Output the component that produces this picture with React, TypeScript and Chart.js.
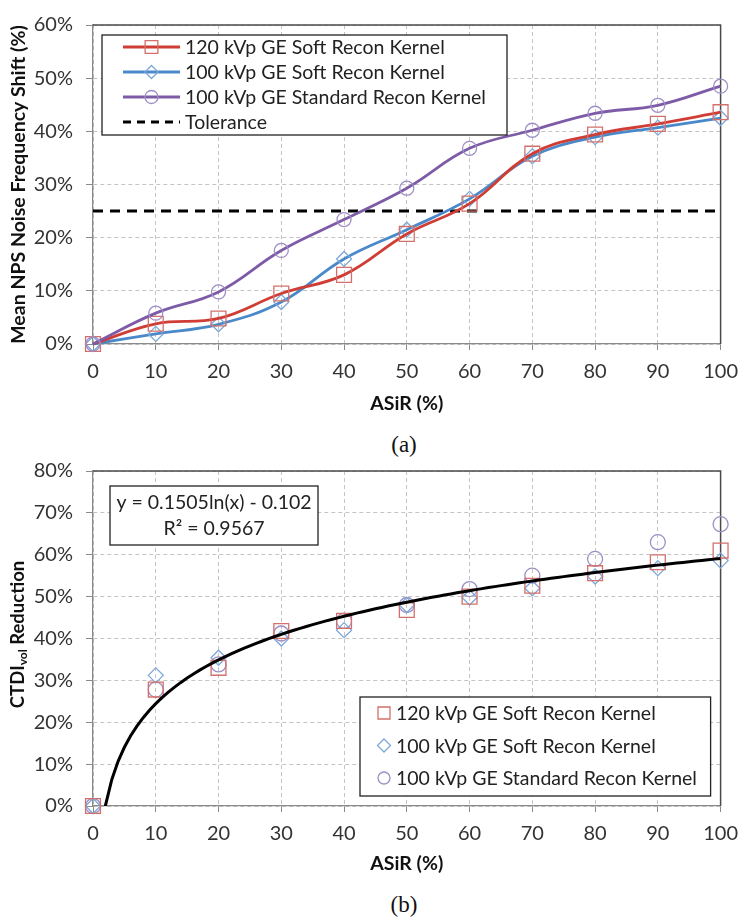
import React, { useEffect, useRef } from "react";
import { Chart, registerables } from "chart.js";

Chart.register(...registerables);

// ---------------- data ----------------
const ASIR_LEVELS = [0, 10, 20, 30, 40, 50, 60, 70, 80, 90, 100];

// (a) Mean NPS noise frequency shift (%)
const NPS_120_SOFT = [0, 3.8, 4.8, 9.5, 13.0, 20.7, 26.4, 35.8, 39.4, 41.4, 43.6];
const NPS_100_SOFT = [0, 1.9, 3.7, 7.9, 16.0, 21.5, 27.3, 35.3, 38.9, 40.7, 42.5];
const NPS_100_STD = [0, 5.8, 9.8, 17.6, 23.4, 29.3, 36.8, 40.2, 43.4, 44.9, 48.5];
const TOLERANCE = 25;

// (b) CTDIvol reduction (%)
const CTDI_120_SOFT = [0, 27.8, 33.0, 41.8, 44.2, 46.8, 50.0, 52.6, 55.6, 58.2, 61.0];
const CTDI_100_SOFT = [0, 31.2, 35.4, 40.0, 42.0, 48.0, 49.8, 52.0, 54.8, 56.8, 58.6];
const CTDI_100_STD = [0, 27.8, 33.8, 41.2, 44.2, 48.0, 51.8, 55.0, 59.0, 63.0, 67.3];

// logarithmic trend line printed on the chart
const TREND_SLOPE = 0.1505;
const TREND_INTERCEPT = -0.102;
const TREND_TEXT = "y = 0.1505ln(x) - 0.102";
const R2_TEXT = "R² = 0.9567";

const SERIES_NAMES = [
  "120 kVp GE Soft Recon Kernel",
  "100 kVp GE Soft Recon Kernel",
  "100 kVp GE Standard Recon Kernel",
];
const TOLERANCE_NAME = "Tolerance";
const X_TITLE = "ASiR (%)";
const Y_TITLE_A = "Mean NPS Noise Frequency Shift (%)";
const Y_TITLE_B_MAIN = "CTDI";
const Y_TITLE_B_SUB = "vol";
const Y_TITLE_B_REST = " Reduction";
const CAPTION_A = "(a)";
const CAPTION_B = "(b)";

const X_MIN = 0, X_MAX = 100, X_STEP = 10;
const YA_MIN = 0, YA_MAX = 60, YA_STEP = 10;
const YB_MIN = 0, YB_MAX = 80, YB_STEP = 10;

// ---------------- styles ----------------
const FONT = "Lato, 'Open Sans', sans-serif";
const TICK_COLOR = "#333333";
const TITLE_COLOR = "#111111";
const GRID_COLOR = "#c4c4c4";
const AXIS_COLOR = "#8a8a8a";
const FRAME_COLOR = "#4a4a4a";

const RED_LINE = "#cf3d35";
const RED_MARK = "#d4706b";
const BLUE_LINE = "#4a89c9";
const BLUE_MARK = "#7ca8d8";
const PURPLE_LINE = "#7e5ba7";
const PURPLE_MARK = "#9e8ec6";

const toPts = (ys: number[]) => ASIR_LEVELS.map((x, i) => ({ x, y: ys[i] }));

function trendPoints() {
  const x0 = Math.exp(-TREND_INTERCEPT / TREND_SLOPE);
  const pts: { x: number; y: number }[] = [{ x: x0, y: 0 }];
  for (let x = Math.ceil(x0); x <= X_MAX; x += 1) {
    pts.push({ x, y: (TREND_SLOPE * Math.log(x) + TREND_INTERCEPT) * 100 });
  }
  return pts;
}

function drawMarker(ctx: CanvasRenderingContext2D, style: string, x: number, y: number, r: number, color: string) {
  ctx.save();
  ctx.strokeStyle = color;
  ctx.lineWidth = 1.3;
  ctx.beginPath();
  if (style === "rect") {
    const s = r * Math.SQRT1_2;
    ctx.rect(x - s, y - s, 2 * s, 2 * s);
  } else if (style === "rectRot") {
    ctx.moveTo(x, y - r);
    ctx.lineTo(x + r, y);
    ctx.lineTo(x, y + r);
    ctx.lineTo(x - r, y);
    ctx.closePath();
  } else {
    ctx.arc(x, y, r, 0, Math.PI * 2);
  }
  ctx.stroke();
  ctx.restore();
}

function xAxis() {
  return {
    type: "linear" as const,
    min: X_MIN,
    max: X_MAX,
    ticks: { stepSize: X_STEP, color: TICK_COLOR, font: { family: FONT, size: 20 }, padding: 10 },
    grid: { color: GRID_COLOR, tickColor: AXIS_COLOR, tickLength: 6, tickBorderDash: [] },
    border: { color: AXIS_COLOR, width: 1.3, dash: [4, 3] },
    title: {
      display: true,
      text: X_TITLE,
      color: TITLE_COLOR,
      font: { family: FONT, size: 19.5, weight: "bold" as const },
      padding: { top: 0, bottom: 5 },
    },
  };
}

function yAxis(min: number, max: number, step: number, title: string | null) {
  return {
    type: "linear" as const,
    min,
    max,
    afterFit: (s: any) => {
      s.width = 93;
    },
    ticks: {
      stepSize: step,
      color: TICK_COLOR,
      font: { family: FONT, size: 20 },
      padding: 13,
      callback: (v: any) => `${v}%`,
    },
    grid: { color: GRID_COLOR, tickColor: AXIS_COLOR, tickLength: 7, tickBorderDash: [] },
    border: { color: AXIS_COLOR, width: 1.3, dash: [4, 3] },
    title: {
      display: !!title,
      text: title || "",
      color: TITLE_COLOR,
      font: { family: FONT, size: 19.5, weight: "bold" as const },
      padding: { top: 7, bottom: 0 },
    },
  };
}

const framePlugin = {
  id: "frame",
  beforeDatasetsDraw(chart: any) {
    const { ctx, chartArea: a } = chart;
    ctx.save();
    ctx.strokeStyle = FRAME_COLOR;
    ctx.lineWidth = 1.5;
    ctx.beginPath();
    ctx.moveTo(a.left, a.top);
    ctx.lineTo(a.right, a.top);
    ctx.lineTo(a.right, a.bottom);
    ctx.stroke();
    ctx.restore();
  },
};

// ---------------- chart (a) ----------------
function configA(): any {
  const lineSet = (label: string, ys: number[], line: string, mark: string, style: string, r: number) => ({
    label,
    data: toPts(ys),
    showLine: true,
    tension: 0.4,
    clip: false,
    borderColor: line,
    borderWidth: 2.8,
    pointStyle: style,
    pointRadius: r,
    pointBorderColor: mark,
    pointBorderWidth: 1.3,
    pointBackgroundColor: "rgba(0,0,0,0)",
  });
  const legendPlugin = {
    id: "legendA",
    afterDraw(chart: any) {
      const { ctx, chartArea: a } = chart;
      const bx = a.left + 9, by = a.top + 10, bw = 405, bh = 100;
      ctx.save();
      ctx.fillStyle = "#ffffff";
      ctx.fillRect(bx, by, bw, bh);
      ctx.strokeStyle = "#222";
      ctx.lineWidth = 1.3;
      ctx.strokeRect(bx, by, bw, bh);
      const rows = [
        { name: SERIES_NAMES[0], line: RED_LINE, mark: RED_MARK, style: "rect", r: 9 },
        { name: SERIES_NAMES[1], line: BLUE_LINE, mark: BLUE_MARK, style: "rectRot", r: 6.5 },
        { name: SERIES_NAMES[2], line: PURPLE_LINE, mark: PURPLE_MARK, style: "circle", r: 6.5 },
      ];
      const x1 = bx + 21, x2 = bx + 78, tx = bx + 83;
      ctx.font = `19.5px ${FONT}`;
      ctx.textBaseline = "middle";
      rows.forEach((row, i) => {
        const y = by + 12 + i * 25;
        ctx.strokeStyle = row.line;
        ctx.lineWidth = 2.8;
        ctx.beginPath();
        ctx.moveTo(x1, y);
        ctx.lineTo(x2, y);
        ctx.stroke();
        drawMarker(ctx, row.style, (x1 + x2) / 2, y, row.r, row.mark);
        ctx.fillStyle = "#222";
        ctx.fillText(row.name, tx, y + 1);
      });
      const ty = by + 87;
      ctx.strokeStyle = "#000";
      ctx.lineWidth = 3;
      ctx.setLineDash([8, 6]);
      ctx.beginPath();
      ctx.moveTo(x1, ty);
      ctx.lineTo(x2, ty);
      ctx.stroke();
      ctx.setLineDash([]);
      ctx.fillStyle = "#222";
      ctx.fillText(TOLERANCE_NAME, tx, ty + 1);
      ctx.restore();
    },
  };
  return {
    type: "scatter",
    data: {
      datasets: [
        lineSet(SERIES_NAMES[2], NPS_100_STD, PURPLE_LINE, PURPLE_MARK, "circle", 7),
        lineSet(SERIES_NAMES[0], NPS_120_SOFT, RED_LINE, RED_MARK, "rect", 10.5),
        lineSet(SERIES_NAMES[1], NPS_100_SOFT, BLUE_LINE, BLUE_MARK, "rectRot", 7.5),
        {
          label: TOLERANCE_NAME,
          data: [
            { x: X_MIN, y: TOLERANCE },
            { x: X_MAX, y: TOLERANCE },
          ],
          showLine: true,
          borderColor: "#000",
          borderWidth: 3,
          borderDash: [10, 7],
          pointRadius: 0,
        },
      ],
    },
    options: {
      responsive: false,
      animation: false,
      layout: { padding: { top: 10, right: 25, left: 0, bottom: 0 } },
      plugins: { legend: { display: false }, tooltip: { enabled: false } },
      scales: {
        x: { ...xAxis(), afterFit: (s: any) => { s.height = 76; } },
        y: yAxis(YA_MIN, YA_MAX, YA_STEP, Y_TITLE_A),
      },
    },
    plugins: [framePlugin, legendPlugin],
  };
}

// ---------------- chart (b) ----------------
function configB(): any {
  const markSet = (label: string, ys: number[], mark: string, style: string, r: number) => ({
    label,
    data: toPts(ys),
    showLine: false,
    clip: false,
    pointStyle: style,
    pointRadius: r,
    pointBorderColor: mark,
    pointBorderWidth: 1.3,
    pointBackgroundColor: "rgba(0,0,0,0)",
  });
  const overlayPlugin = {
    id: "overlayB",
    afterDraw(chart: any) {
      const { ctx, chartArea: a } = chart;
      ctx.save();
      // y-axis title with subscript
      const cy = (a.top + a.bottom) / 2 - 4;
      const bigFont = `bold 18.5px ${FONT}`;
      const subFont = `bold 12px ${FONT}`;
      ctx.font = bigFont;
      const w1 = ctx.measureText(Y_TITLE_B_MAIN).width;
      const w3 = ctx.measureText(Y_TITLE_B_REST).width;
      ctx.font = subFont;
      const w2 = ctx.measureText(Y_TITLE_B_SUB).width;
      const total = w1 + w2 + w3;
      ctx.translate(18, cy);
      ctx.rotate(-Math.PI / 2);
      ctx.fillStyle = TITLE_COLOR;
      ctx.textBaseline = "middle";
      ctx.textAlign = "left";
      let x = -total / 2;
      ctx.font = bigFont;
      ctx.fillText(Y_TITLE_B_MAIN, x, 0);
      x += w1;
      ctx.font = subFont;
      ctx.fillText(Y_TITLE_B_SUB, x, 5);
      x += w2;
      ctx.font = bigFont;
      ctx.fillText(Y_TITLE_B_REST, x, 0);
      ctx.setTransform(1, 0, 0, 1, 0, 0);

      // equation box
      const ex = a.left + 17, ey = a.top + 15, ew = 208, eh = 59;
      ctx.fillStyle = "#fff";
      ctx.fillRect(ex, ey, ew, eh);
      ctx.strokeStyle = "#222";
      ctx.lineWidth = 1.3;
      ctx.strokeRect(ex, ey, ew, eh);
      ctx.fillStyle = "#222";
      ctx.font = `19.5px ${FONT}`;
      ctx.textAlign = "center";
      ctx.textBaseline = "middle";
      ctx.fillText(TREND_TEXT, ex + ew / 2, ey + 17);
      ctx.fillText(R2_TEXT, ex + ew / 2, ey + 43);

      // legend box
      const lx = a.left + 267, lw = a.right - 10 - lx, lh = 99, ly = a.bottom - 10 - lh;
      ctx.fillStyle = "#fff";
      ctx.fillRect(lx, ly, lw, lh);
      ctx.strokeStyle = "#222";
      ctx.strokeRect(lx, ly, lw, lh);
      const rows = [
        { name: SERIES_NAMES[0], mark: RED_MARK, style: "rect", r: 8.5 },
        { name: SERIES_NAMES[1], mark: BLUE_MARK, style: "rectRot", r: 6.5 },
        { name: SERIES_NAMES[2], mark: PURPLE_MARK, style: "circle", r: 6 },
      ];
      ctx.textAlign = "left";
      rows.forEach((row, i) => {
        const y = ly + 16 + i * 32.5;
        drawMarker(ctx, row.style, lx + 24, y, row.r, row.mark);
        ctx.fillStyle = "#222";
        ctx.fillText(row.name, lx + 36, y + 1);
      });
      ctx.restore();
    },
  };
  return {
    type: "scatter",
    data: {
      datasets: [
        {
          label: "Log trend",
          data: trendPoints(),
          showLine: true,
          borderColor: "#000",
          borderWidth: 3,
          pointRadius: 0,
          tension: 0,
        },
        markSet(SERIES_NAMES[0], CTDI_120_SOFT, RED_MARK, "rect", 10.5),
        markSet(SERIES_NAMES[1], CTDI_100_SOFT, BLUE_MARK, "rectRot", 7.5),
        markSet(SERIES_NAMES[2], CTDI_100_STD, PURPLE_MARK, "circle", 7.5),
      ],
    },
    options: {
      responsive: false,
      animation: false,
      layout: { padding: { top: 31, right: 21, left: 0, bottom: 0 } },
      plugins: { legend: { display: false }, tooltip: { enabled: false } },
      scales: {
        x: { ...xAxis(), afterFit: (s: any) => { s.height = 74; } },
        y: yAxis(YB_MIN, YB_MAX, YB_STEP, null),
      },
    },
    plugins: [framePlugin, overlayPlugin],
  };
}

function ChartCanvas({ make, top, height }: { make: () => any; top: number; height: number }) {
  const ref = useRef<HTMLCanvasElement | null>(null);
  useEffect(() => {
    if (!ref.current) return;
    const chart = new Chart(ref.current, make());
    return () => chart.destroy();
  }, []);
  return (
    <canvas
      ref={ref}
      width={748}
      height={height}
      style={{ position: "absolute", left: 0, top, width: 748, height, display: "block" }}
    />
  );
}

const captionStyle = (top: number): React.CSSProperties => ({
  position: "absolute",
  left: 304,
  width: 200,
  top,
  textAlign: "center",
  fontFamily: "'Liberation Serif', 'Times New Roman', serif",
  fontSize: 23,
  lineHeight: "26px",
  color: "#111",
});

export default function App() {
  return (
    <div style={{ position: "absolute", left: 0, top: 0, width: 748, height: 923, background: "#fff", overflow: "hidden" }}>
      <ChartCanvas make={configA} top={0} height={420} />
      <div style={captionStyle(432)}>{CAPTION_A}</div>
      <ChartCanvas make={configB} top={440} height={440} />
      <div style={captionStyle(892)}>{CAPTION_B}</div>
    </div>
  );
}
